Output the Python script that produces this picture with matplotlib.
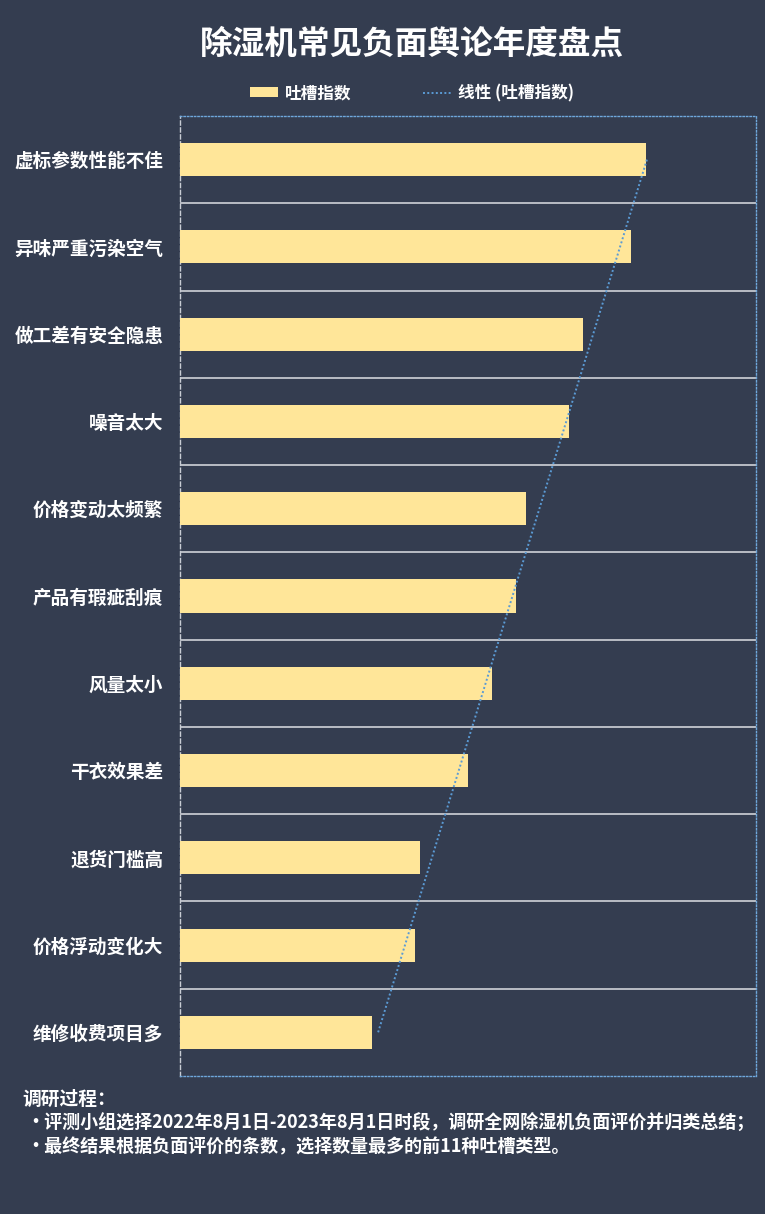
import numpy as np
import matplotlib
matplotlib.use("Agg")
import matplotlib.pyplot as plt
from matplotlib.patches import Rectangle, Patch
from matplotlib.lines import Line2D

plt.rcParams['font.family'] = ['Noto Sans CJK SC', 'DejaVu Sans']

# 数据
categories = ['虚标参数性能不佳', '异味严重污染空气', '做工差有安全隐患', '噪音太大',
              '价格变动太频繁', '产品有瑕疵刮痕', '风量太小', '干衣效果差',
              '退货门槛高', '价格浮动变化大', '维修收费项目多']
values = [97, 94, 84, 81, 72, 70, 65, 60, 50, 49, 40]

title = '除湿机常见负面舆论年度盘点'
note_head = '调研过程：'
note_lines = ['·评测小组选择2022年8月1日-2023年8月1日时段，调研全网除湿机负面评价并归类总结；',
              '·最终结果根据负面评价的条数，选择数量最多的前11种吐槽类型。']

bg = '#343D50'
bar_color = '#FFE699'
line_color = '#5B9BD5'

fig = plt.figure(figsize=(7.74, 12.23), dpi=100)
fig.patch.set_facecolor('white')
# 深色背景 (右侧和底部留白)
fig.patches.append(Rectangle((0, 9 / 1223), 765 / 774, 1214 / 1223,
                             transform=fig.transFigure, facecolor=bg,
                             edgecolor='none', zorder=-10))

ax = fig.add_axes([180 / 774, 1 - 1076 / 1223, 576 / 774, 960 / 1223])
ax.set_facecolor(bg)

y = np.arange(len(categories))
ax.barh(y, values, height=0.38, color=bar_color, zorder=3)

# 线性趋势线
k, b = np.polyfit(y, values, 1)
ax.plot(k * y + b, y, linestyle=(0, (1, 1.2)), color=line_color, lw=1.4, zorder=4)

ax.set_xlim(0, 120)
ax.set_ylim(len(categories) - 0.5, -0.5)
ax.set_xticks([])
ax.set_yticks(y)
ax.set_yticklabels(categories, color='white', fontsize=13.4, fontweight='bold')
ax.tick_params(axis='y', length=0, pad=12)

# 分隔线
ax.set_yticks(np.arange(len(categories) - 1) + 0.5, minor=True)
ax.tick_params(axis='y', which='minor', length=0)
ax.grid(axis='y', which='minor', color='#D0D3D8', lw=1.2)
ax.grid(axis='y', which='major', visible=False)
ax.set_axisbelow(True)

for side in ['top', 'right', 'bottom']:
    ax.spines[side].set_color('#6FA8DC')
    ax.spines[side].set_linestyle((0, (1, 1.5)))
    ax.spines[side].set_linewidth(1.0)
ax.spines['left'].set_color('#C8CCD4')
ax.spines['left'].set_linestyle((0, (3, 2)))
ax.spines['left'].set_linewidth(1.0)

fig.text(412 / 774, 1 - 44 / 1223, title, ha='center', va='center',
         color='white', fontsize=23.5, fontweight='bold')

handles = [Patch(facecolor=bar_color, edgecolor='none'),
           Line2D([0], [0], color=line_color, linestyle=(0, (1, 1.2)), lw=1.4)]
leg = fig.legend(handles, ['吐槽指数', '线性 (吐槽指数)'], loc='center',
                 bbox_to_anchor=(412 / 774, 1 - 93 / 1223), ncol=2, frameon=False,
                 fontsize=12, handlelength=1.7, handleheight=0.55,
                 columnspacing=4.3, handletextpad=0.4)
for t in leg.get_texts():
    t.set_color('white')
    t.set_fontweight('bold')

fig.text(22 / 774, 1 - 1099 / 1223, note_head, ha='left', va='center',
         color='white', fontsize=13.5, fontweight='bold')
for i, line in enumerate(note_lines):
    fig.text(26 / 774, 1 - (1123 + i * 24) / 1223, line, ha='left', va='center',
             color='white', fontsize=13, fontweight='bold')

fig.savefig('out.png', dpi=100, facecolor=fig.get_facecolor())
